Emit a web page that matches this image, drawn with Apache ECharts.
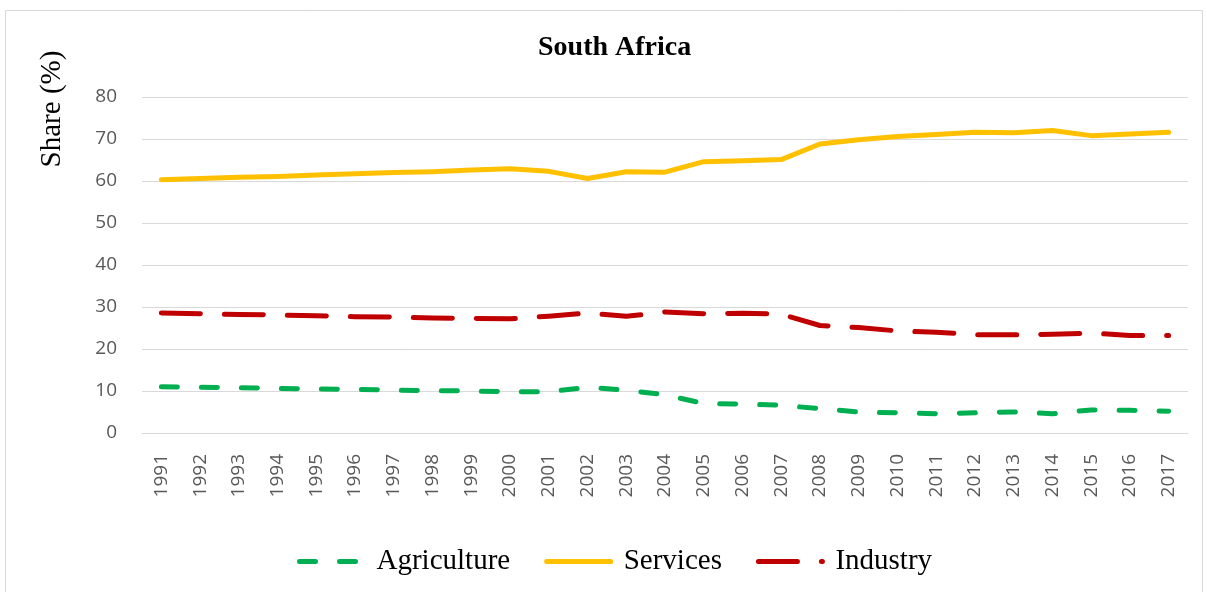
<!DOCTYPE html>
<html>
<head>
<meta charset="utf-8">
<script src="https://cdn.jsdelivr.net/npm/echarts@6/dist/echarts.min.js"></script>
<style>
html,body{margin:0;padding:0;background:#fff;}
#c{width:1207px;height:592px;}
</style>
</head>
<body>
<div id="c"></div>
<script>
const years = ['1991','1992','1993','1994','1995','1996','1997','1998','1999','2000','2001','2002','2003','2004','2005','2006','2007','2008','2009','2010','2011','2012','2013','2014','2015','2016','2017'];
const agriculture = [11.0,10.9,10.8,10.6,10.5,10.4,10.2,10.1,10.0,9.8,9.8,10.9,10.2,9.1,7.0,6.9,6.6,5.8,5.0,4.8,4.6,4.8,5.0,4.6,5.5,5.4,5.2];
const services = [60.3,60.6,60.9,61.1,61.4,61.7,62.0,62.2,62.6,62.9,62.3,60.6,62.2,62.1,64.6,64.8,65.1,68.8,69.8,70.6,71.1,71.6,71.5,72.0,70.8,71.2,71.6];
const industry = [28.6,28.4,28.2,28.1,27.9,27.7,27.6,27.4,27.3,27.2,27.8,28.6,27.8,28.8,28.4,28.5,28.3,25.6,25.1,24.3,24.0,23.4,23.4,23.5,23.8,23.2,23.2];
const yTicks = [0,10,20,30,40,50,60,70,80];

const chart = echarts.init(document.getElementById('c'));
const serif = '"Liberation Serif","Times New Roman",serif';
const sans = '"Open Sans","Liberation Sans",sans-serif';
chart.setOption({
  animation:false,
  title:{text:'South Africa',left:533,top:29,textStyle:{fontFamily:serif,fontWeight:'bold',fontSize:28,color:'#000'}},
  graphic:[
    {type:'rect',shape:{x:5.5,y:10.5,width:1197,height:600},style:{fill:'none',stroke:'#d9d9d9',lineWidth:1},silent:true,z:-1},
    {type:'text',x:52,y:109,rotation:Math.PI/2,style:{text:'Share (%)',fontFamily:serif,fontSize:29,fill:'#000',textAlign:'center',textVerticalAlign:'middle'}}
  ],
  grid:{left:142,right:19,top:97,bottom:159,containLabel:false},
  legend:{
    bottom:16,left:297,padding:0,itemWidth:64,itemHeight:10,itemGap:34,
    data:['Agriculture','Services','Industry'],
    itemStyle:{opacity:0},
    lineStyle:{width:5,cap:'round'},
    textStyle:{fontFamily:serif,fontSize:29,color:'#000',padding:[0,0,0,8]}
  },
  xAxis:{
    type:'category',data:years,boundaryGap:true,
    axisLine:{show:true,lineStyle:{color:'#d9d9d9',width:1}},
    axisTick:{show:false},
    axisLabel:{rotate:90,margin:21,fontFamily:sans,fontSize:19,color:'#595959',interval:0}
  },
  yAxis:{
    type:'value',min:0,max:80,interval:10,
    axisLine:{show:false},axisTick:{show:false},
    splitLine:{lineStyle:{color:'#d9d9d9',width:1}},
    axisLabel:{margin:25,fontFamily:sans,fontSize:19,color:'#595959',
      formatter:function(v){return yTicks.indexOf(v)>=0?String(v):'';}}
  },
  series:[
    {name:'Agriculture',type:'line',data:agriculture,symbol:'none',
      lineStyle:{color:'#00B050',width:5,type:[16,24],cap:'round',join:'round'},itemStyle:{color:'#00B050'}},
    {name:'Services',type:'line',data:services,symbol:'none',
      lineStyle:{color:'#FFC000',width:5,cap:'round',join:'round'},itemStyle:{color:'#FFC000'}},
    {name:'Industry',type:'line',data:industry,symbol:'none',
      lineStyle:{color:'#C00000',width:5,type:[39,24],cap:'round',join:'round'},itemStyle:{color:'#C00000'}}
  ]
});
</script>
</body>
</html>
